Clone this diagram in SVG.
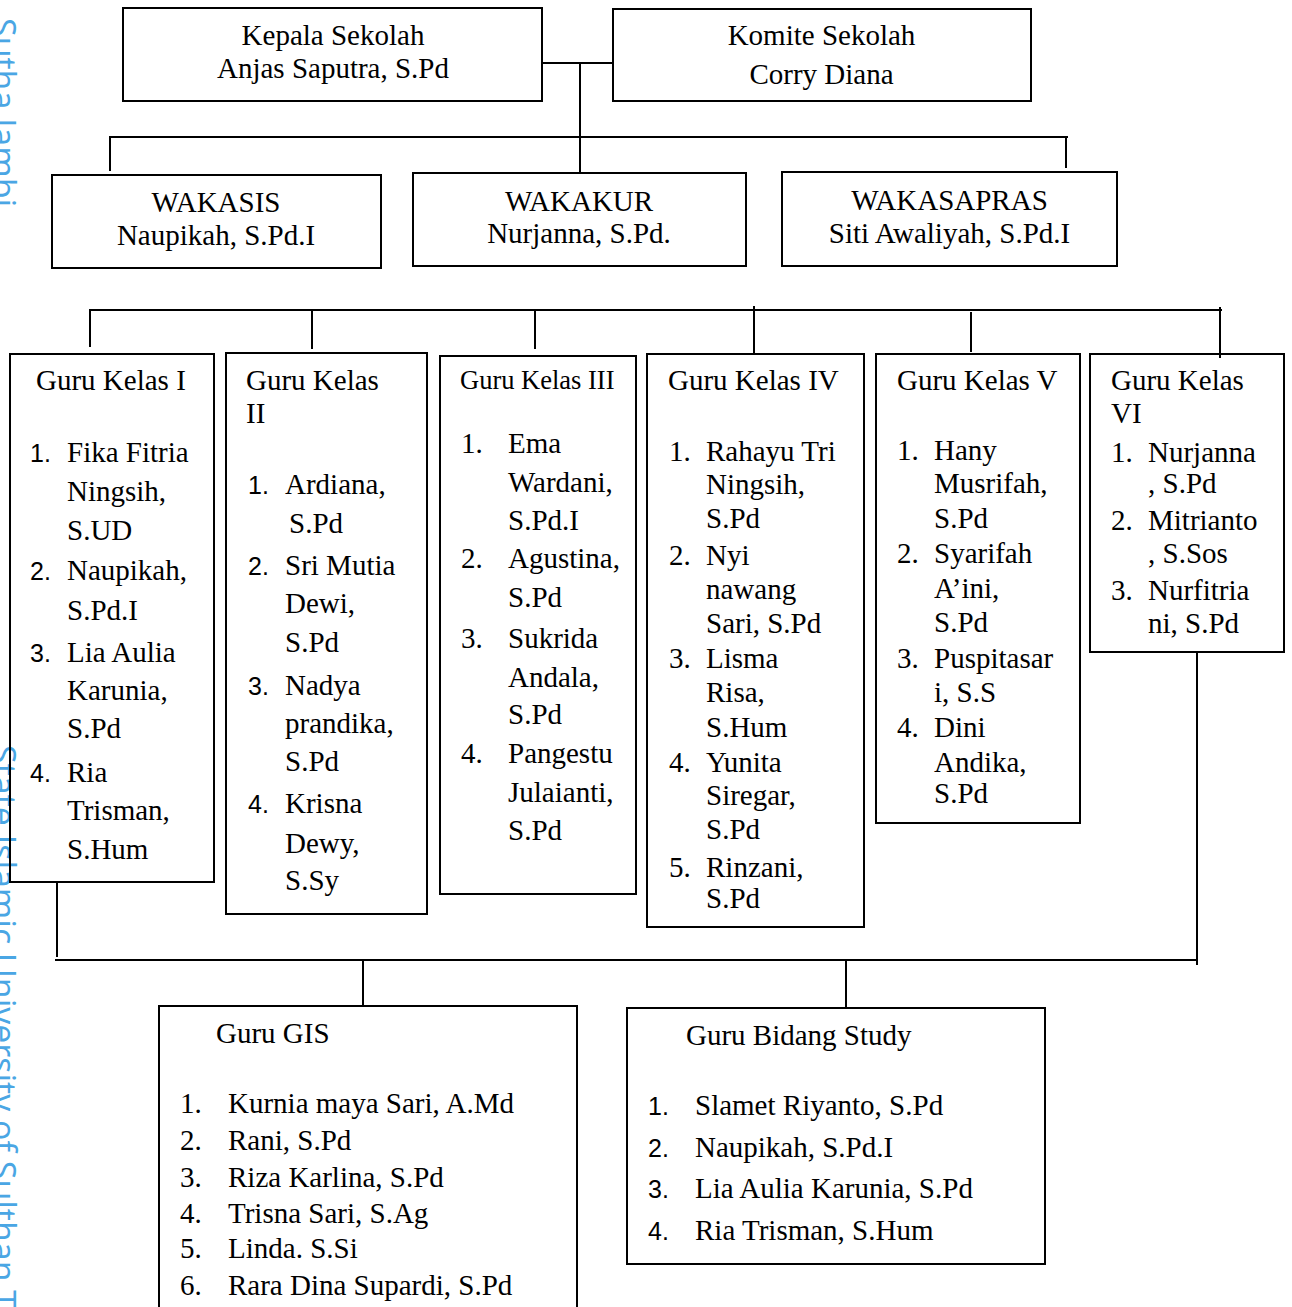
<svg xmlns="http://www.w3.org/2000/svg" width="1292" height="1307" viewBox="0 0 1292 1307">
<style>
  .bx { fill: none; stroke: #000; stroke-width: 2; }
  .ln { fill: none; stroke: #000; stroke-width: 2; }
  text { font-family: "Liberation Serif", "Times New Roman", serif; font-size: 29px; fill: #000; }
  .c { text-anchor: middle; }
  .h3 { font-size: 26.5px; }
  .n { font-family: "Liberation Sans", Arial, sans-serif; font-size: 25px; }
  .wm { font-family: "Open Sans", "Noto Sans", sans-serif; font-size: 34px; fill: #4aa6e4; }
</style>
<rect x="0" y="0" width="1292" height="1307" fill="#fff"/>

<g id="watermark">
  <text class="wm" transform="translate(-9,18) rotate(90)">Sutha Jambi</text>
  <text class="wm" transform="translate(-9,745) rotate(90)">State Islamic University of Sulthan T</text>
</g>

<g id="connectors">
  <path class="ln" d="M542 63 H613"/>
  <path class="ln" d="M580 63 V173"/>
  <path class="ln" d="M109 137 H1068"/>
  <path class="ln" d="M110 137 V171"/>
  <path class="ln" d="M1066 137 V168"/>
  <path class="ln" d="M89 310 H1222"/>
  <path class="ln" d="M90 310 V347"/>
  <path class="ln" d="M312 310 V349"/>
  <path class="ln" d="M535 310 V349"/>
  <path class="ln" d="M754 306 V354"/>
  <path class="ln" d="M971 312 V352"/>
  <path class="ln" d="M1220 307 V358"/>
  <path class="ln" d="M57 882 V957"/>
  <path class="ln" d="M55 960 H1198"/>
  <path class="ln" d="M1197 652 V965"/>
  <path class="ln" d="M363 960 V1006"/>
  <path class="ln" d="M846 960 V1008"/>
</g>

<g id="kepala-sekolah">
  <rect class="bx" x="123" y="8" width="419" height="93"/>
  <text class="c" x="333" y="45">Kepala Sekolah</text>
  <text class="c" x="333" y="78">Anjas Saputra, S.Pd</text>
</g>

<g id="komite-sekolah">
  <rect class="bx" x="613" y="9" width="418" height="92"/>
  <text class="c" x="821.5" y="45">Komite Sekolah</text>
  <text class="c" x="821.5" y="84">Corry Diana</text>
</g>

<g id="wakasis">
  <rect class="bx" x="52" y="175" width="329" height="93"/>
  <text class="c" x="216" y="212">WAKASIS</text>
  <text class="c" x="216" y="245">Naupikah, S.Pd.I</text>
</g>

<g id="wakakur">
  <rect class="bx" x="413" y="173" width="333" height="93"/>
  <text class="c" x="579" y="211">WAKAKUR</text>
  <text class="c" x="579" y="243">Nurjanna, S.Pd.</text>
</g>

<g id="wakasapras">
  <rect class="bx" x="782" y="172" width="335" height="94"/>
  <text class="c" x="949.5" y="210">WAKASAPRAS</text>
  <text class="c" x="949.5" y="243">Siti Awaliyah, S.Pd.I</text>
</g>

<g id="guru-kelas-1">
  <rect class="bx" x="10" y="354" width="204" height="528"/>
  <text x="36" y="390">Guru Kelas I</text>
  <text class="n" x="30" y="462">1.</text>
  <text x="67" y="462">Fika Fitria</text>
  <text x="67" y="501">Ningsih,</text>
  <text x="67" y="540">S.UD</text>
  <text class="n" x="30" y="580">2.</text>
  <text x="67" y="580">Naupikah,</text>
  <text x="67" y="620">S.Pd.I</text>
  <text class="n" x="30" y="662">3.</text>
  <text x="67" y="662">Lia Aulia</text>
  <text x="67" y="700">Karunia,</text>
  <text x="67" y="738">S.Pd</text>
  <text class="n" x="30" y="782">4.</text>
  <text x="67" y="782">Ria</text>
  <text x="67" y="820">Trisman,</text>
  <text x="67" y="859">S.Hum</text>
</g>

<g id="guru-kelas-2">
  <rect class="bx" x="226" y="353" width="201" height="561"/>
  <text x="246" y="390">Guru Kelas</text>
  <text x="246" y="423">II</text>
  <text class="n" x="248" y="494">1.</text>
  <text x="285" y="494">Ardiana,</text>
  <text x="289" y="533">S.Pd</text>
  <text class="n" x="248" y="575">2.</text>
  <text x="285" y="575">Sri Mutia</text>
  <text x="285" y="613">Dewi,</text>
  <text x="285" y="652">S.Pd</text>
  <text class="n" x="248" y="695">3.</text>
  <text x="285" y="695">Nadya</text>
  <text x="285" y="733">prandika,</text>
  <text x="285" y="771">S.Pd</text>
  <text class="n" x="248" y="813">4.</text>
  <text x="285" y="813">Krisna</text>
  <text x="285" y="853">Dewy,</text>
  <text x="285" y="890">S.Sy</text>
</g>

<g id="guru-kelas-3">
  <rect class="bx" x="440" y="356" width="196" height="538"/>
  <text class="h3" x="460" y="389">Guru Kelas III</text>
  <text x="461" y="453">1.</text>
  <text x="508" y="453">Ema</text>
  <text x="508" y="492">Wardani,</text>
  <text x="508" y="530">S.Pd.I</text>
  <text x="461" y="568">2.</text>
  <text x="508" y="568">Agustina,</text>
  <text x="508" y="607">S.Pd</text>
  <text x="461" y="648">3.</text>
  <text x="508" y="648">Sukrida</text>
  <text x="508" y="687">Andala,</text>
  <text x="508" y="724">S.Pd</text>
  <text x="461" y="763">4.</text>
  <text x="508" y="763">Pangestu</text>
  <text x="508" y="802">Julaianti,</text>
  <text x="508" y="840">S.Pd</text>
</g>

<g id="guru-kelas-4">
  <rect class="bx" x="647" y="354" width="217" height="573"/>
  <text x="668" y="390">Guru Kelas IV</text>
  <text x="669" y="461">1.</text>
  <text x="706" y="461">Rahayu Tri</text>
  <text x="706" y="494">Ningsih,</text>
  <text x="706" y="528">S.Pd</text>
  <text x="669" y="565">2.</text>
  <text x="706" y="565">Nyi</text>
  <text x="706" y="599">nawang</text>
  <text x="706" y="633">Sari, S.Pd</text>
  <text x="669" y="668">3.</text>
  <text x="706" y="668">Lisma</text>
  <text x="706" y="702">Risa,</text>
  <text x="706" y="737">S.Hum</text>
  <text x="669" y="772">4.</text>
  <text x="706" y="772">Yunita</text>
  <text x="706" y="805">Siregar,</text>
  <text x="706" y="839">S.Pd</text>
  <text x="669" y="877">5.</text>
  <text x="706" y="877">Rinzani,</text>
  <text x="706" y="908">S.Pd</text>
</g>

<g id="guru-kelas-5">
  <rect class="bx" x="876" y="354" width="204" height="469"/>
  <text x="897" y="390">Guru Kelas V</text>
  <text x="897" y="460">1.</text>
  <text x="934" y="460">Hany</text>
  <text x="934" y="493">Musrifah,</text>
  <text x="934" y="528">S.Pd</text>
  <text x="897" y="563">2.</text>
  <text x="934" y="563">Syarifah</text>
  <text x="934" y="598">A’ini,</text>
  <text x="934" y="632">S.Pd</text>
  <text x="897" y="668">3.</text>
  <text x="934" y="668">Puspitasar</text>
  <text x="934" y="702">i, S.S</text>
  <text x="897" y="737">4.</text>
  <text x="934" y="737">Dini</text>
  <text x="934" y="772">Andika,</text>
  <text x="934" y="803">S.Pd</text>
</g>

<g id="guru-kelas-6">
  <rect class="bx" x="1090" y="354" width="194" height="298"/>
  <text x="1111" y="390">Guru Kelas</text>
  <text x="1111" y="423">VI</text>
  <text x="1111" y="462">1.</text>
  <text x="1148" y="462">Nurjanna</text>
  <text x="1148" y="493">, S.Pd</text>
  <text x="1111" y="530">2.</text>
  <text x="1148" y="530">Mitrianto</text>
  <text x="1148" y="563">, S.Sos</text>
  <text x="1111" y="600">3.</text>
  <text x="1148" y="600">Nurfitria</text>
  <text x="1148" y="633">ni, S.Pd</text>
</g>

<g id="guru-gis">
  <path class="bx" d="M159 1320 V1006 H577 V1320"/>
  <text x="216" y="1043">Guru GIS</text>
  <text x="180" y="1113">1.</text>
  <text x="228" y="1113">Kurnia maya Sari, A.Md</text>
  <text x="180" y="1150">2.</text>
  <text x="228" y="1150">Rani, S.Pd</text>
  <text x="180" y="1187">3.</text>
  <text x="228" y="1187">Riza Karlina, S.Pd</text>
  <text x="180" y="1223">4.</text>
  <text x="228" y="1223">Trisna Sari, S.Ag</text>
  <text x="180" y="1258">5.</text>
  <text x="228" y="1258">Linda. S.Si</text>
  <text x="180" y="1295">6.</text>
  <text x="228" y="1295">Rara Dina Supardi, S.Pd</text>
</g>

<g id="guru-bidang-study">
  <rect class="bx" x="627" y="1008" width="418" height="256"/>
  <text x="686" y="1045">Guru Bidang Study</text>
  <text class="n" x="648" y="1115">1.</text>
  <text x="695" y="1115">Slamet Riyanto, S.Pd</text>
  <text class="n" x="648" y="1157">2.</text>
  <text x="695" y="1157">Naupikah, S.Pd.I</text>
  <text class="n" x="648" y="1198">3.</text>
  <text x="695" y="1198">Lia Aulia Karunia, S.Pd</text>
  <text class="n" x="648" y="1240">4.</text>
  <text x="695" y="1240">Ria Trisman, S.Hum</text>
</g>
</svg>
